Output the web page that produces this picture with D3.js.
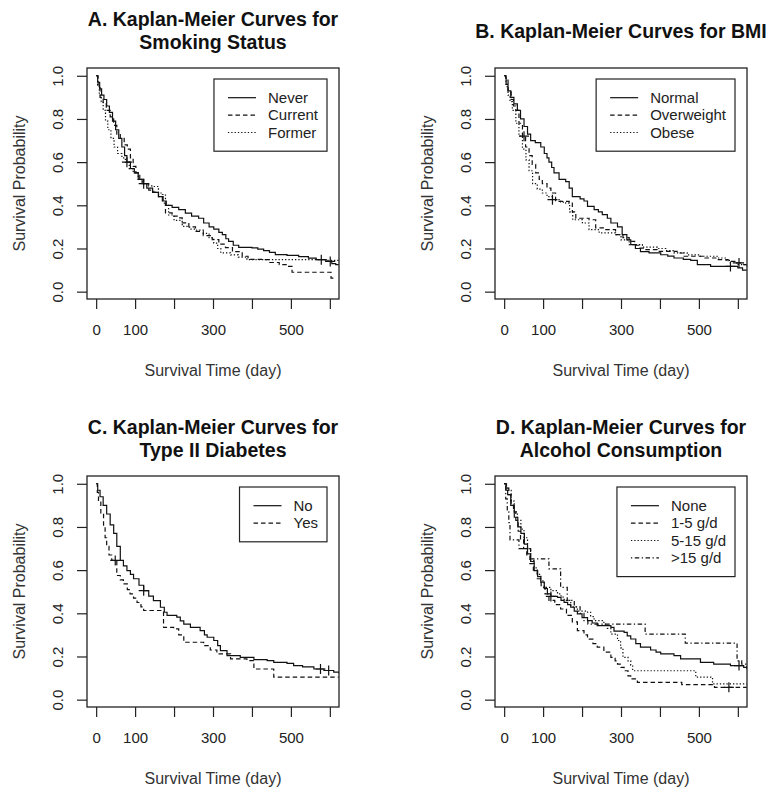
<!DOCTYPE html>
<html>
<head>
<meta charset="utf-8">
<title>Kaplan-Meier Curves</title>
<style>
  body { margin: 0; background: #fff; }
  svg { font-family: "Liberation Sans", Arial, sans-serif; }
  .tick line { stroke: #222; stroke-width: 1.2; }
  .tick text { fill: #222; font-size: 15px; }
</style>
</head>
<body>
<script src="https://cdn.jsdelivr.net/npm/d3@7"></script>
<script>
// ---- data: [day, survival] steps ----
var xTicks = [0, 100, 200, 300, 400, 500, 600];
var xLabels = [0, 100, 300, 500];
var yTicks = [0, 0.2, 0.4, 0.6, 0.8, 1.0];

// A. smoking status
var smokingGroups = ["Never", "Current", "Former"];
var smokingNever = [[0,1],[4,0.97],[9,0.94],[14,0.91],[20,0.89],[27,0.86],[34,0.83],[42,0.79],[50,0.75],[58,0.71],[66,0.67],[73,0.63],[79,0.60],[88,0.57],[98,0.55],[108,0.52],[118,0.50],[130,0.48],[145,0.46],[160,0.44],[172,0.42],[180,0.40],[195,0.39],[212,0.38],[229,0.364],[245,0.35],[263,0.34],[276,0.318],[290,0.30],[302,0.29],[315,0.275],[324,0.264],[333,0.245],[340,0.233],[352,0.215],[366,0.205],[400,0.203],[415,0.197],[430,0.19],[445,0.182],[460,0.172],[490,0.168],[520,0.162],[545,0.155],[565,0.148],[590,0.14],[605,0.13],[615,0.125],[623,0.125]];
var smokingCurrent = [[0,1],[5,0.95],[10,0.90],[18,0.87],[26,0.84],[36,0.81],[45,0.77],[53,0.73],[62,0.71],[72,0.68],[80,0.66],[88,0.62],[95,0.58],[102,0.55],[112,0.52],[122,0.50],[135,0.47],[148,0.46],[160,0.44],[170,0.41],[178,0.365],[195,0.35],[208,0.342],[221,0.319],[238,0.30],[255,0.279],[275,0.26],[298,0.241],[315,0.22],[332,0.204],[350,0.185],[375,0.164],[390,0.15],[430,0.148],[445,0.135],[470,0.125],[490,0.117],[503,0.09],[600,0.09],[603,0.063],[615,0.063]];
var smokingFormer = [[0,1],[4,0.95],[8,0.91],[13,0.88],[18,0.84],[24,0.79],[30,0.75],[38,0.71],[46,0.67],[55,0.64],[66,0.62],[75,0.60],[85,0.57],[95,0.55],[108,0.52],[120,0.50],[132,0.49],[143,0.487],[160,0.457],[170,0.45],[178,0.40],[186,0.355],[200,0.33],[221,0.302],[240,0.29],[258,0.285],[275,0.27],[290,0.25],[302,0.225],[312,0.2],[320,0.18],[345,0.17],[365,0.16],[387,0.148],[590,0.145],[623,0.145]];
var smokingCensor = [[79, 122, 578, 601], [], []];

// B. BMI
var bmiGroups = ["Normal", "Overweight", "Obese"];
var bmiNormal = [[0,1],[5,0.96],[10,0.93],[17,0.90],[25,0.87],[34,0.84],[42,0.80],[51,0.765],[60,0.73],[68,0.70],[80,0.69],[94,0.67],[103,0.64],[110,0.62],[115,0.60],[122,0.575],[128,0.55],[141,0.52],[158,0.51],[167,0.48],[175,0.44],[195,0.43],[205,0.42],[214,0.395],[231,0.38],[242,0.37],[252,0.357],[265,0.34],[274,0.318],[291,0.30],[303,0.264],[315,0.24],[325,0.218],[337,0.20],[350,0.185],[372,0.18],[402,0.171],[420,0.165],[436,0.156],[460,0.15],[479,0.145],[496,0.125],[530,0.117],[575,0.117],[600,0.11],[612,0.10],[623,0.10]];
var bmiOverweight = [[0,1],[4,0.98],[10,0.93],[18,0.89],[24,0.86],[30,0.84],[38,0.78],[47,0.72],[55,0.67],[64,0.63],[72,0.59],[81,0.55],[90,0.52],[98,0.50],[110,0.48],[120,0.457],[132,0.418],[167,0.41],[175,0.37],[184,0.34],[218,0.333],[235,0.295],[261,0.287],[286,0.264],[305,0.25],[321,0.233],[335,0.215],[346,0.202],[360,0.195],[393,0.187],[444,0.179],[462,0.164],[513,0.156],[547,0.148],[575,0.14],[598,0.133],[615,0.125],[623,0.125]];
var bmiObese = [[0,1],[5,0.95],[10,0.91],[15,0.88],[21,0.84],[30,0.78],[38,0.72],[47,0.66],[56,0.61],[64,0.56],[73,0.50],[85,0.475],[98,0.457],[110,0.44],[124,0.426],[145,0.415],[158,0.41],[168,0.37],[176,0.333],[201,0.318],[218,0.287],[244,0.272],[286,0.264],[300,0.24],[321,0.218],[355,0.206],[393,0.20],[415,0.19],[436,0.18],[470,0.17],[504,0.164],[547,0.156],[570,0.145],[581,0.133],[600,0.125],[623,0.117]];
var bmiCensor = [[581], [51, 603], [124]];

// C. type II diabetes
var diabetesGroups = ["No", "Yes"];
var diabetesNo = [[0,1],[4,0.97],[10,0.94],[18,0.90],[27,0.86],[36,0.81],[45,0.77],[53,0.71],[62,0.645],[70,0.62],[79,0.598],[88,0.58],[96,0.56],[110,0.53],[122,0.505],[135,0.48],[147,0.459],[165,0.428],[175,0.405],[182,0.39],[207,0.382],[216,0.365],[225,0.35],[242,0.335],[267,0.32],[278,0.30],[285,0.289],[302,0.274],[312,0.25],[319,0.227],[336,0.204],[370,0.196],[405,0.185],[439,0.181],[456,0.173],[490,0.168],[507,0.158],[530,0.152],[559,0.142],[585,0.135],[610,0.128],[623,0.122]];
var diabetesYes = [[0,1],[3,0.96],[6,0.92],[12,0.86],[19,0.80],[23,0.75],[27,0.71],[33,0.67],[40,0.645],[53,0.575],[62,0.555],[70,0.536],[80,0.51],[87,0.49],[96,0.47],[105,0.45],[115,0.43],[122,0.413],[170,0.413],[173,0.335],[199,0.328],[212,0.30],[225,0.266],[267,0.266],[276,0.25],[293,0.23],[310,0.212],[345,0.189],[387,0.181],[405,0.142],[439,0.142],[456,0.104],[623,0.104]];
var diabetesCensor = [[122, 576, 597], [49]];

// D. alcohol consumption
var alcoholGroups = ["None", "1-5 g/d", "5-15 g/d", ">15 g/d"];
var alcoholNone = [[0,1],[5,0.97],[9,0.95],[17,0.90],[26,0.845],[35,0.80],[43,0.77],[52,0.72],[60,0.675],[68,0.64],[77,0.598],[86,0.57],[94,0.544],[103,0.515],[111,0.49],[120,0.478],[137,0.474],[146,0.46],[154,0.451],[163,0.44],[171,0.428],[180,0.41],[188,0.397],[200,0.38],[214,0.366],[226,0.355],[239,0.343],[274,0.335],[282,0.317],[308,0.312],[316,0.295],[325,0.281],[338,0.26],[350,0.243],[376,0.23],[390,0.22],[402,0.212],[436,0.204],[453,0.189],[487,0.189],[504,0.173],[538,0.165],[581,0.158],[615,0.15],[623,0.142]];
var alcohol1to5 = [[0,1],[6,0.98],[12,0.95],[18,0.91],[24,0.87],[30,0.83],[36,0.78],[42,0.74],[50,0.70],[58,0.67],[66,0.63],[75,0.60],[85,0.56],[95,0.52],[105,0.49],[115,0.46],[130,0.44],[145,0.42],[160,0.39],[175,0.36],[188,0.32],[205,0.30],[214,0.28],[228,0.26],[239,0.243],[256,0.22],[274,0.196],[285,0.18],[291,0.165],[300,0.15],[308,0.134],[318,0.11],[325,0.096],[342,0.08],[444,0.08],[456,0.07],[530,0.07],[540,0.057],[623,0.057]];
var alcohol5to15 = [[0,1],[5,0.98],[9,0.97],[18,0.92],[26,0.87],[34,0.83],[43,0.79],[51,0.75],[60,0.70],[68,0.645],[77,0.61],[85,0.58],[94,0.55],[103,0.52],[120,0.505],[137,0.49],[146,0.475],[154,0.46],[171,0.43],[188,0.41],[214,0.405],[222,0.385],[231,0.366],[256,0.35],[265,0.33],[274,0.304],[291,0.274],[299,0.24],[305,0.196],[318,0.18],[325,0.16],[330,0.134],[487,0.134],[492,0.104],[530,0.104],[535,0.073],[623,0.073]];
var alcoholOver15 = [[0,1],[4,0.93],[8,0.87],[12,0.82],[15,0.74],[35,0.74],[38,0.70],[60,0.70],[68,0.652],[111,0.652],[115,0.606],[141,0.606],[145,0.52],[158,0.52],[162,0.46],[180,0.43],[195,0.40],[205,0.366],[215,0.35],[359,0.35],[362,0.304],[462,0.304],[465,0.262],[590,0.262],[598,0.18],[610,0.165],[623,0.15]];
var alcoholCensor = [[120, 603], [577], [], []];

var dashes = [null, "4.5,3", "1.3,2", "1.3,2.5,4.5,2.5"];

var panels = [
  {title: ["A. Kaplan-Meier Curves for", "Smoking Status"], groups: smokingGroups,
   curves: [smokingNever, smokingCurrent, smokingFormer], censor: smokingCensor, col: 0, row: 0},
  {title: ["B. Kaplan-Meier Curves for BMI"], groups: bmiGroups,
   curves: [bmiNormal, bmiOverweight, bmiObese], censor: bmiCensor, col: 1, row: 0},
  {title: ["C. Kaplan-Meier Curves for", "Type II Diabetes"], groups: diabetesGroups,
   curves: [diabetesNo, diabetesYes], censor: diabetesCensor, col: 0, row: 1},
  {title: ["D. Kaplan-Meier Curves for", "Alcohol Consumption"], groups: alcoholGroups,
   curves: [alcoholNone, alcohol1to5, alcohol5to15, alcoholOver15], censor: alcoholCensor, col: 1, row: 1}
];

var width = 773, height = 792;
var boxW = 252, boxH = 231;

var svg = d3.select("body").append("svg")
  .attr("width", width)
  .attr("height", height);

svg.append("rect").attr("width", width).attr("height", height).attr("fill", "#fff");

function survAt(curve, t) {
  var s = 1;
  curve.forEach(function (p) { if (p[0] <= t) s = p[1]; });
  return s;
}

panels.forEach(function (p, pi) {
  var left = 87 + p.col * 408, top = 68 + p.row * 408;
  var g = svg.append("g").attr("transform", "translate(" + left + "," + top + ")");

  var x = d3.scaleLinear().domain([-23.5, 623.5]).range([0, boxW]);
  var y = d3.scaleLinear().domain([-0.034, 1.036]).range([boxH, 0]);

  // title
  var nT = p.title.length;
  p.title.forEach(function (t, i) {
    g.append("text")
      .attr("x", boxW / 2)
      .attr("y", -37 + (i - (nT - 1) / 2) * 23)
      .attr("dy", "0.35em")
      .attr("text-anchor", "middle")
      .attr("font-size", "19.5px")
      .attr("font-weight", "bold")
      .attr("fill", "#111")
      .text(t);
  });

  // axes
  var xAxis = g.append("g")
    .attr("transform", "translate(0," + boxH + ")")
    .call(d3.axisBottom(x).tickValues(xTicks).tickSize(10)
      .tickFormat(function (d) { return xLabels.indexOf(d) >= 0 ? d : ""; }));
  xAxis.select(".domain").remove();
  xAxis.selectAll("text").attr("y", 31).attr("dy", "0.35em");

  var yAxis = g.append("g")
    .call(d3.axisLeft(y).tickValues(yTicks).tickSize(10).tickFormat(d3.format(".1f")));
  yAxis.select(".domain").remove();
  yAxis.selectAll("text")
    .attr("x", null)
    .attr("dy", "0.35em")
    .attr("text-anchor", "middle")
    .attr("transform", "translate(-29,0) rotate(-90)");

  g.append("text")
    .attr("x", boxW / 2)
    .attr("y", boxH + 71)
    .attr("dy", "0.35em")
    .attr("text-anchor", "middle")
    .attr("font-size", "16px")
    .attr("fill", "#333")
    .text("Survival Time (day)");

  g.append("text")
    .attr("transform", "translate(-68," + (boxH / 2) + ") rotate(-90)")
    .attr("dy", "0.35em")
    .attr("text-anchor", "middle")
    .attr("font-size", "16px")
    .attr("fill", "#333")
    .text("Survival Probability");

  // curves
  var clipId = "clip" + pi;
  g.append("clipPath").attr("id", clipId)
    .append("rect").attr("width", boxW).attr("height", boxH);

  var line = d3.line()
    .x(function (d) { return x(d[0]); })
    .y(function (d) { return y(d[1]); })
    .curve(d3.curveStepAfter);

  var plot = g.append("g").attr("clip-path", "url(#" + clipId + ")");
  p.curves.forEach(function (c, ci) {
    plot.append("path")
      .datum(c)
      .attr("d", line)
      .attr("fill", "none")
      .attr("stroke", "#111")
      .attr("stroke-width", 1.2)
      .attr("stroke-dasharray", dashes[ci]);

    p.censor[ci].forEach(function (t) {
      plot.append("path")
        .attr("transform", "translate(" + x(t) + "," + y(survAt(c, t)) + ")")
        .attr("d", "M-5,0H5M0,-5V5")
        .attr("stroke", "#111")
        .attr("stroke-width", 1.2);
    });
  });

  // box
  g.append("rect")
    .attr("width", boxW).attr("height", boxH)
    .attr("fill", "none").attr("stroke", "#222").attr("stroke-width", 1.3);

  // legend
  var leg = g.append("g");
  var texts = p.groups.map(function (name, i) {
    return leg.append("text")
      .attr("y", 18.7 + 17.4 * i)
      .attr("dy", "0.35em")
      .attr("font-size", "15px")
      .attr("fill", "#222")
      .text(name);
  });
  var maxW = d3.max(texts, function (t) { return t.node().getComputedTextLength(); });
  var legW = 14 + 28 + 12 + maxW + 9;
  var legH = 20 + 17.4 * p.groups.length;
  leg.attr("transform", "translate(" + (boxW - 12 - legW) + ",11)");
  leg.insert("rect", "text")
    .attr("width", legW).attr("height", legH)
    .attr("fill", "#fff").attr("stroke", "#222").attr("stroke-width", 1.2);
  texts.forEach(function (t, i) { t.attr("x", 14 + 28 + 12); });
  p.groups.forEach(function (name, i) {
    leg.append("line")
      .attr("x1", 14).attr("x2", 42)
      .attr("y1", 18.7 + 17.4 * i).attr("y2", 18.7 + 17.4 * i)
      .attr("stroke", "#111").attr("stroke-width", 1.2)
      .attr("stroke-dasharray", dashes[i]);
  });
});
</script>
</body>
</html>
